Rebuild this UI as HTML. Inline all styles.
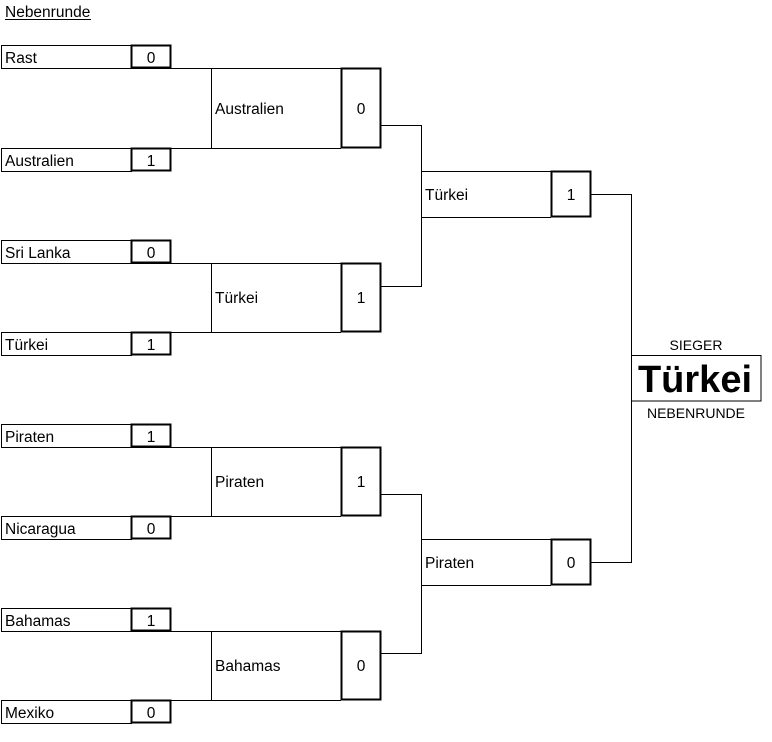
<!DOCTYPE html>
<html>
<head>
<meta charset="utf-8">
<style>
html,body{margin:0;padding:0;background:#fff;}
svg{display:block;}
text{font-family:"Liberation Sans",Arial,sans-serif;fill:#000;}
</style>
</head>
<body>
<svg width="772" height="742" viewBox="0 0 772 742" xmlns="http://www.w3.org/2000/svg">
<rect width="772" height="742" fill="#fff"/>

<!-- Title -->
<text x="5" y="17" font-size="15.5">Nebenrunde</text>
<line x1="5" y1="19.5" x2="91" y2="19.5" stroke="#000" stroke-width="1"/>

<g fill="none" stroke="#000" stroke-width="1">
  <rect x="1.5" y="45.5" width="130" height="23"/>
  <rect x="1.5" y="148.5" width="130" height="23"/>
  <rect x="1.5" y="240.5" width="130" height="23"/>
  <rect x="1.5" y="332.5" width="130" height="23"/>
  <rect x="1.5" y="424.5" width="130" height="23"/>
  <rect x="1.5" y="516.5" width="130" height="23"/>
  <rect x="1.5" y="608.5" width="130" height="23"/>
  <rect x="1.5" y="700.5" width="130" height="23"/>

  <path d="M131 68.5 H341 M131 148.5 H341 M211.5 68.5 V148.5"/>
  <path d="M131 263.5 H341 M131 332.5 H341 M211.5 263.5 V332.5"/>
  <path d="M131 447.5 H341 M131 516.5 H341 M211.5 447.5 V516.5"/>
  <path d="M131 631.5 H341 M131 700.5 H341 M211.5 631.5 V700.5"/>

  <path d="M381 125.5 H421.5 V286.5 H381"/>
  <path d="M381 494.5 H421.5 V653.5 H381"/>

  <path d="M421.5 171.5 H551 M421.5 217.5 H551 M421.5 171.5 V217.5"/>
  <path d="M421.5 539.5 H551 M421.5 585.5 H551 M421.5 539.5 V585.5"/>

  <path d="M591 194.5 H631.5 V562.5 H591"/>

  <rect x="631.5" y="355.5" width="129.5" height="45.5"/>
</g>

<g fill="#fff" stroke="#000" stroke-width="2">
  <rect x="131.5" y="45.5" width="39" height="22"/>
  <rect x="131.5" y="148.5" width="39" height="22"/>
  <rect x="131.5" y="240.5" width="39" height="22"/>
  <rect x="131.5" y="332.5" width="39" height="22"/>
  <rect x="131.5" y="424.5" width="39" height="22"/>
  <rect x="131.5" y="516.5" width="39" height="22"/>
  <rect x="131.5" y="608.5" width="39" height="22"/>
  <rect x="131.5" y="700.5" width="39" height="22"/>
  <rect x="341.5" y="68.5" width="39" height="79"/>
  <rect x="341.5" y="263.5" width="39" height="68"/>
  <rect x="341.5" y="447.5" width="39" height="68"/>
  <rect x="341.5" y="631.5" width="39" height="68"/>
  <rect x="551.5" y="171.5" width="39" height="45"/>
  <rect x="551.5" y="539.5" width="39" height="45"/>
</g>

<g font-size="15.5">
  <text x="5" y="63">Rast</text>
  <text x="5" y="166">Australien</text>
  <text x="5" y="258">Sri Lanka</text>
  <text x="5" y="350">Türkei</text>
  <text x="5" y="442">Piraten</text>
  <text x="5" y="534">Nicaragua</text>
  <text x="5" y="626">Bahamas</text>
  <text x="5" y="718">Mexiko</text>
</g>
<g font-size="15.5" text-anchor="middle">
  <text x="151" y="63">0</text>
  <text x="151" y="166">1</text>
  <text x="151" y="258">0</text>
  <text x="151" y="350">1</text>
  <text x="151" y="442">1</text>
  <text x="151" y="534">0</text>
  <text x="151" y="626">1</text>
  <text x="151" y="718">0</text>
</g>

<g font-size="15.5">
  <text x="215" y="114">Australien</text>
  <text x="215" y="303">Türkei</text>
  <text x="215" y="487">Piraten</text>
  <text x="215" y="671">Bahamas</text>
  <text x="425" y="200">Türkei</text>
  <text x="425" y="568">Piraten</text>
</g>
<g font-size="15.5" text-anchor="middle">
  <text x="361" y="114">0</text>
  <text x="361" y="303">1</text>
  <text x="361" y="487">1</text>
  <text x="361" y="671">0</text>
  <text x="571" y="200">1</text>
  <text x="571" y="568">0</text>
</g>

<text x="696" y="350" font-size="14" text-anchor="middle">SIEGER</text>
<text x="695" y="392" font-size="38" font-weight="bold" text-anchor="middle">Türkei</text>
<text x="696" y="418" font-size="14" text-anchor="middle">NEBENRUNDE</text>
</svg>
</body>
</html>
